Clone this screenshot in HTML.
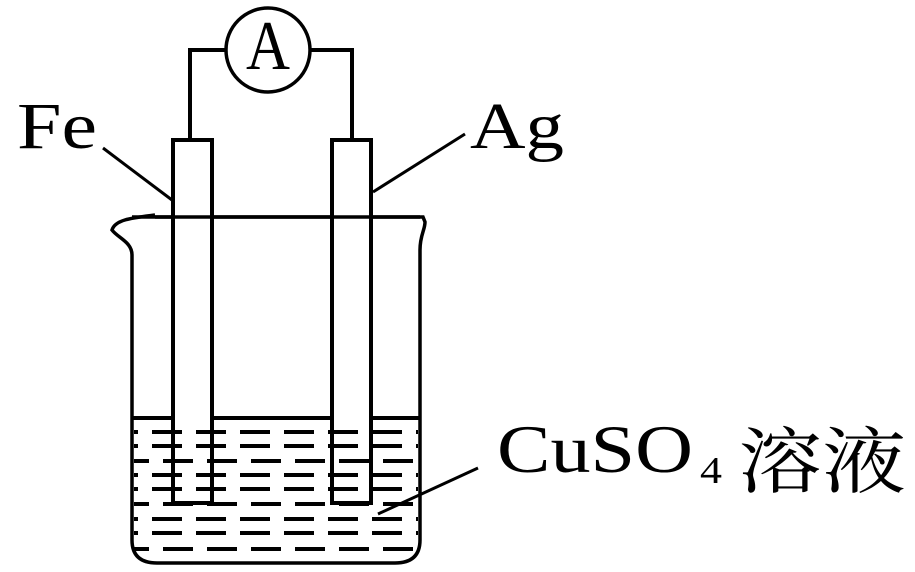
<!DOCTYPE html>
<html><head><meta charset="utf-8"><style>
html,body{margin:0;padding:0;background:#fff;}
svg{display:block;}
.t{font-family:"Liberation Serif","Noto Serif CJK SC",serif;}
</style></head><body>
<svg width="915" height="572" viewBox="0 0 915 572" xmlns="http://www.w3.org/2000/svg">
<defs><clipPath id="c"><rect x="134" y="420" width="284" height="140"/></clipPath></defs>
<g stroke="#000" stroke-width="4" fill="none">
<polyline points="190,140 190,50 226,50"/>
<polyline points="310,50 352,50 352,140"/>
<circle cx="268" cy="50" r="42" stroke-width="3.5"/>
<path d="M155,215 C130,218 115,220 112,230 C118,238 132,242 132,255 L132,540 Q132,563 157,563 L395,563 Q420,563 420,540 L420,250 C420,235 425,230 425,222 L423,217 L155,217" stroke-width="3.5"/>
<line x1="132" y1="418" x2="420" y2="418"/>
<rect x="173" y="140" width="39" height="363" fill="#fff"/>
<rect x="332" y="140" width="39" height="363" fill="#fff"/>
<line x1="132" y1="217" x2="420" y2="217" stroke-width="3.5"/>
<line x1="103" y1="148" x2="172" y2="200" stroke-width="3"/>
<line x1="373" y1="192" x2="465" y2="134" stroke-width="3"/>
<line x1="378" y1="514" x2="478" y2="468" stroke-width="3"/>
</g>
<g stroke="#000" stroke-width="4" stroke-dasharray="30 14" clip-path="url(#c)">
<line x1="108" y1="432" x2="430" y2="432"/>
<line x1="108" y1="446" x2="430" y2="446"/>
<line x1="119" y1="461" x2="430" y2="461"/>
<line x1="108" y1="475" x2="430" y2="475"/>
<line x1="108" y1="489" x2="430" y2="489"/>
<line x1="119" y1="504" x2="430" y2="504"/>
<line x1="108" y1="519" x2="430" y2="519"/>
<line x1="108" y1="533" x2="430" y2="533"/>
<line x1="119" y1="549" x2="430" y2="549"/>
</g>
<g stroke="#000" stroke-width="4" fill="none">
<path d="M173,418 L173,503 L212,503 L212,418"/>
<path d="M332,418 L332,503 L371,503 L371,418"/>
</g>
<g class="t" fill="#000">
<text x="268" y="69" font-size="70" text-anchor="middle" textLength="44" lengthAdjust="spacingAndGlyphs">A</text>
<text x="17" y="148" font-size="66" textLength="80" lengthAdjust="spacingAndGlyphs">Fe</text>
<text x="470" y="148" font-size="66" textLength="94" lengthAdjust="spacingAndGlyphs">Ag</text>
<text x="497" y="472" font-size="68" textLength="196" lengthAdjust="spacingAndGlyphs">CuSO</text>
<text x="700" y="483" font-size="38" textLength="22" lengthAdjust="spacingAndGlyphs">4</text>
<text x="738" y="487" font-size="72" textLength="168" lengthAdjust="spacingAndGlyphs">溶液</text>
</g>
</svg>
</body></html>
